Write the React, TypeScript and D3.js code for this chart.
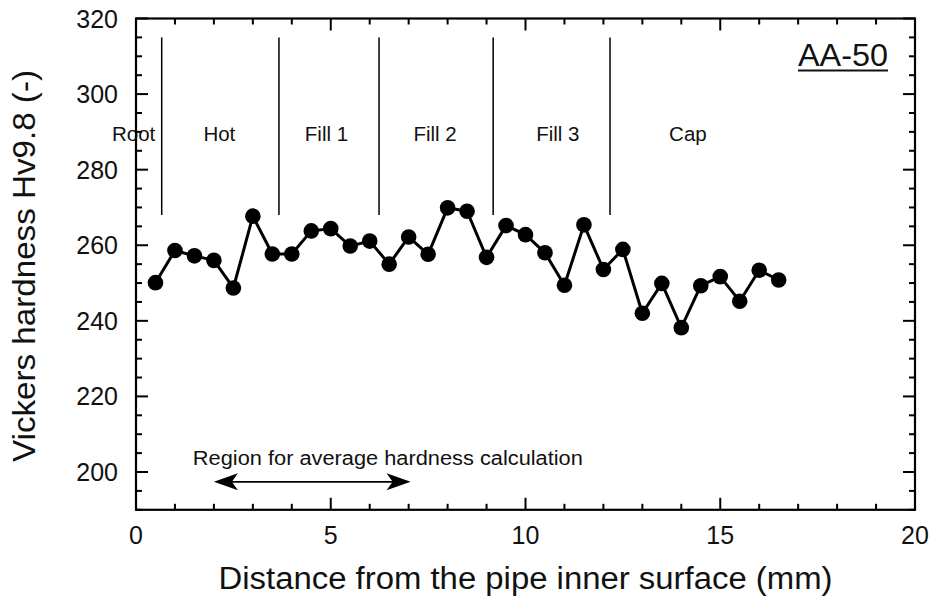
import React from "react";
import * as d3 from "d3";

const distance = [0.5, 1.0, 1.5, 2.0, 2.5, 3.0, 3.5, 4.0, 4.5, 5.0, 5.5, 6.0, 6.5, 7.0, 7.5, 8.0, 8.5, 9.0, 9.5, 10.0, 10.5, 11.0, 11.5, 12.0, 12.5, 13.0, 13.5, 14.0, 14.5, 15.0, 15.5, 16.0, 16.5];
const hardness = [250.1, 258.6, 257.2, 256.0, 248.7, 267.7, 257.7, 257.7, 263.8, 264.4, 259.8, 261.1, 255.0, 262.2, 257.6, 269.9, 269.0, 256.8, 265.2, 262.8, 258.0, 249.4, 265.4, 253.6, 258.9, 242.0, 249.9, 238.2, 249.3, 251.7, 245.2, 253.4, 250.8];

const zoneBoundaries = [0.66, 3.67, 6.24, 9.17, 12.17];
const zoneLabels = ["Root", "Hot", "Fill 1", "Fill 2", "Fill 3", "Cap"];
const zoneLabelX = [-0.06, 2.14, 4.89, 7.68, 10.83, 14.17];
const zoneLineTop = 315;
const zoneLineBottom = 268;
const zoneLabelY = 289;

const xTicks = [0, 5, 10, 15, 20];
const yTicks = [200, 220, 240, 260, 280, 300, 320];

const arrowRange = [2.0, 7.05];
const arrowY = 197.4;
const regionText = "Region for average hardness calculation";
const regionTextX = 1.46;
const regionTextY = 201.8;

const specimen = "AA-50";

const W = 932;
const H = 600;
const left = 136;
const right = 915;
const top = 18.5;
const bottom = 509.8;

export default function App() {
  const x = d3.scaleLinear().domain([0, 20]).range([left, right]);
  const y = d3.scaleLinear().domain([190, 320]).range([bottom, top]);
  const font = "'Liberation Sans', Arial, Helvetica, sans-serif";

  const pts = distance.map((d, i) => [d, hardness[i]] as [number, number]);
  const line = d3
    .line<[number, number]>()
    .x((d) => x(d[0]))
    .y((d) => y(d[1]));

  const xMinor = d3.range(0, 20.001, 1);
  const yMinor = d3.range(190, 320.001, 5);
  const majLen = 12;
  const minLen = 6;

  const ax0 = x(arrowRange[0]);
  const ax1 = x(arrowRange[1]);
  const ay = y(arrowY);
  const headL = 24;
  const headW = 8.5;
  const notch = 6;
  const leftHead = `M${ax0},${ay} L${ax0 + headL},${ay - headW} L${ax0 + headL - notch},${ay} L${ax0 + headL},${ay + headW} Z`;
  const rightHead = `M${ax1},${ay} L${ax1 - headL},${ay - headW} L${ax1 - headL + notch},${ay} L${ax1 - headL},${ay + headW} Z`;

  return (
    <svg
      width={W}
      height={H}
      viewBox={`0 0 ${W} ${H}`}
      style={{ position: "absolute", left: 0, top: 0, background: "#fff" }}
      fontFamily={font}
    >
      <rect x={0} y={0} width={W} height={H} fill="#fff" />

      {/* zone lines */}
      {zoneBoundaries.map((b, i) => (
        <line
          key={"zb" + i}
          x1={x(b)}
          x2={x(b)}
          y1={y(zoneLineTop)}
          y2={y(zoneLineBottom)}
          stroke="#000"
          strokeWidth={1.5}
        />
      ))}
      {zoneLabels.map((t, i) => (
        <text
          key={"zl" + i}
          x={x(zoneLabelX[i])}
          y={y(zoneLabelY)}
          textAnchor="middle"
          dominantBaseline="middle"
          fontSize={20.5}
          fill="#111"
        >
          {t}
        </text>
      ))}

      {/* data */}
      <path d={line(pts) || ""} fill="none" stroke="#000" strokeWidth={3} strokeLinejoin="round" />
      {pts.map((p, i) => (
        <circle key={"pt" + i} cx={x(p[0])} cy={y(p[1])} r={7.8} fill="#000" />
      ))}

      {/* region arrow */}
      <line x1={ax0 + 8} x2={ax1 - 8} y1={ay} y2={ay} stroke="#000" strokeWidth={1.8} />
      <path d={leftHead} fill="#000" />
      <path d={rightHead} fill="#000" />
      <text x={x(regionTextX)} y={y(regionTextY)} fontSize={20} fill="#111" textLength={390} lengthAdjust="spacingAndGlyphs">
        {regionText}
      </text>

      {/* specimen label */}
      <text x={888} y={66} textAnchor="end" fontSize={32} fill="#111" textLength={90} lengthAdjust="spacingAndGlyphs">
        {specimen}
      </text>
      <line x1={798} x2={888} y1={70.5} y2={70.5} stroke="#111" strokeWidth={2} />

      {/* ticks */}
      {xMinor.map((v, i) => {
        const major = v % 5 === 0;
        const L = major ? majLen : minLen;
        return (
          <g key={"xt" + i}>
            <line x1={x(v)} x2={x(v)} y1={bottom} y2={bottom - L} stroke="#000" strokeWidth={2} />
            <line x1={x(v)} x2={x(v)} y1={top} y2={top + L} stroke="#000" strokeWidth={2} />
          </g>
        );
      })}
      {yMinor.map((v, i) => {
        const major = v % 20 === 0;
        const L = major ? majLen : minLen;
        return (
          <g key={"yt" + i}>
            <line x1={left} x2={left + L} y1={y(v)} y2={y(v)} stroke="#000" strokeWidth={2} />
            <line x1={right} x2={right - L} y1={y(v)} y2={y(v)} stroke="#000" strokeWidth={2} />
          </g>
        );
      })}

      {/* frame */}
      <rect x={left} y={top} width={right - left} height={bottom - top} fill="none" stroke="#000" strokeWidth={2.2} />

      {/* tick labels */}
      {xTicks.map((v) => (
        <text key={"xl" + v} x={x(v)} y={544} textAnchor="middle" fontSize={25} fill="#111">
          {v}
        </text>
      ))}
      {yTicks.map((v) => (
        <text key={"yl" + v} x={118} y={y(v)} textAnchor="end" dominantBaseline="central" fontSize={25} fill="#111">
          {v}
        </text>
      ))}

      {/* axis titles */}
      <text x={(left + right) / 2} y={589} textAnchor="middle" fontSize={31} fill="#111" textLength={614} lengthAdjust="spacingAndGlyphs">
        Distance from the pipe inner surface (mm)
      </text>
      <text
        transform={`translate(35, 266) rotate(-90)`}
        textAnchor="middle"
        fontSize={31}
        fill="#111"
        textLength={392}
        lengthAdjust="spacingAndGlyphs"
      >
        Vickers hardness Hv9.8 (-)
      </text>
    </svg>
  );
}
